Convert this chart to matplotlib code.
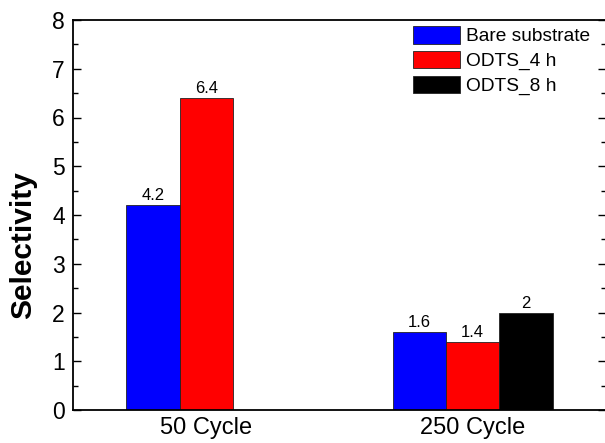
import numpy as np
import matplotlib.pyplot as plt
from matplotlib.ticker import MultipleLocator

plt.rcParams['font.family'] = ['Liberation Sans', 'DejaVu Sans']

# data
cycles = ['50 Cycle', '250 Cycle']
series = ['Bare substrate', 'ODTS_4 h', 'ODTS_8 h']
bare = [4.2, 1.6]
odts4 = [6.4, 1.4]
odts8 = [np.nan, 2.0]
colors = ['#0000ff', '#ff0000', '#000000']

fig = plt.figure(figsize=(6.05, 4.43), dpi=100)
ax = fig.add_axes([73 / 605, 1 - 410 / 443, 533 / 605, 390 / 443])

x = np.arange(len(cycles))
w = 0.2
for i, (vals, name, c) in enumerate(zip([bare, odts4, odts8], series, colors)):
    pos = x + (i - 1) * w
    ax.bar(pos, vals, width=w, color=c, edgecolor='#222222', linewidth=0.6, label=name)
    for p, v in zip(pos, vals):
        if not np.isnan(v):
            ax.text(p, v + 0.04, f'{v:g}', ha='center', va='bottom', fontsize=12)

ax.set_xlim(-0.5, 1.5)
ax.set_ylim(0, 8)
ax.set_xticks(x)
ax.set_xticklabels(cycles)
ax.yaxis.set_major_locator(MultipleLocator(1))
ax.yaxis.set_minor_locator(MultipleLocator(0.5))
ax.tick_params(axis='y', which='both', direction='in', left=True, right=True, labelsize=16.5, pad=6)
ax.tick_params(axis='y', which='major', length=6, width=1)
ax.tick_params(axis='y', which='minor', length=3.5, width=1)
ax.tick_params(axis='x', length=0, labelsize=17, pad=5)
for s in ax.spines.values():
    s.set_linewidth(1.3)
ax.set_ylabel('Selectivity', fontsize=21.5, fontweight='bold')
ax.yaxis.set_label_coords(-0.068, 0.424)

ax.legend(loc='upper left', frameon=False, fontsize=13.8, handlelength=2.45, handleheight=1.05,
          labelspacing=0.28, handletextpad=0.3, borderpad=0, borderaxespad=0,
          bbox_to_anchor=(0.638, 0.985))

fig.savefig('out.png', dpi=100)
